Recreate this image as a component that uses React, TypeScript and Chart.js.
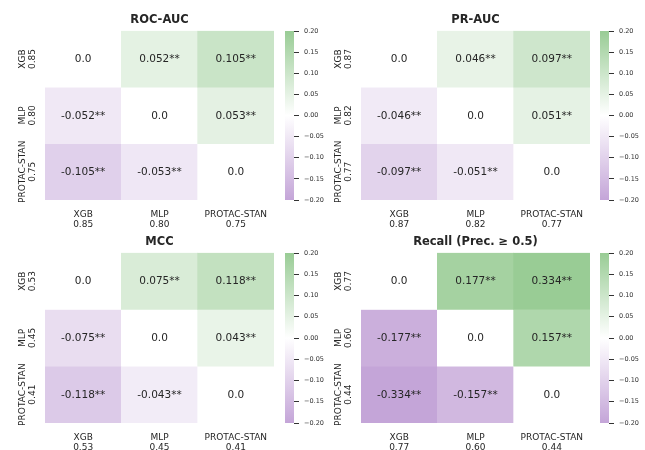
import React, { useEffect, useRef } from "react";
import { Chart, registerables } from "chart.js";

Chart.register(...registerables);

const FONT = "'DejaVu Sans', Verdana, sans-serif";
const TEXT = "#262626";

// ---- data ----
const MODELS = ["XGB", "MLP", "PROTAC-STAN"];

const ROC_SCORES = [0.85, 0.8, 0.75];
const ROC_DIFF = [
  [0.0, 0.052, 0.105],
  [-0.052, 0.0, 0.053],
  [-0.105, -0.053, 0.0],
];

const PR_SCORES = [0.87, 0.82, 0.77];
const PR_DIFF = [
  [0.0, 0.046, 0.097],
  [-0.046, 0.0, 0.051],
  [-0.097, -0.051, 0.0],
];

const MCC_SCORES = [0.53, 0.45, 0.41];
const MCC_DIFF = [
  [0.0, 0.075, 0.118],
  [-0.075, 0.0, 0.043],
  [-0.118, -0.043, 0.0],
];

const REC_SCORES = [0.77, 0.6, 0.44];
const REC_DIFF = [
  [0.0, 0.177, 0.334],
  [-0.177, 0.0, 0.157],
  [-0.334, -0.157, 0.0],
];

const SIG = [
  ["", "**", "**"],
  ["**", "", "**"],
  ["**", "**", ""],
];

const CB_MIN = -0.2;
const CB_MAX = 0.2;
const CB_STEP = 0.05;

// ---- colours ----
const GREEN = [153, 204, 149];
const PURPLE = [196, 165, 216];
const WHITE = [255, 255, 255];

function mix(a: number[], b: number[], t: number) {
  const c = a.map((v, i) => Math.round(v + (b[i] - v) * t));
  return `rgb(${c[0]},${c[1]},${c[2]})`;
}
function colorFor(v: number) {
  const t = Math.max(-1, Math.min(1, v / CB_MAX));
  return t >= 0 ? mix(WHITE, GREEN, t) : mix(WHITE, PURPLE, -t);
}

type HeatProps = {
  title: string;
  scores: number[];
  diffs: number[][];
  left: number;
  top: number;
  height: number;
  axisH: number;
};

function Heatmap({ title, scores, diffs, left, top, height, axisH }: HeatProps) {
  const ref = useRef<HTMLCanvasElement>(null);
  useEffect(() => {
    const canvas = ref.current!;
    const xLabels = MODELS.map((m, i) => [m, scores[i].toFixed(2)]);
    const valuePlugin = {
      id: "cellValues",
      afterDatasetsDraw(chart: any) {
        const ctx = chart.ctx;
        ctx.save();
        ctx.font = `10.5px ${FONT}`;
        ctx.fillStyle = TEXT;
        ctx.textAlign = "center";
        ctx.textBaseline = "middle";
        chart.data.datasets.forEach((ds: any, i: number) => {
          const meta = chart.getDatasetMeta(i);
          meta.data.forEach((bar: any, j: number) => {
            const p = bar.getProps(["x", "y", "base"], true);
            const v = diffs[i][j];
            const txt = i === j ? "0.0" : v.toFixed(3) + SIG[i][j];
            ctx.fillText(txt, p.x, (p.y + p.base) / 2 + 0.5);
          });
        });
        ctx.restore();
      },
    };
    const yLabelPlugin = {
      id: "yLabels",
      afterDraw(chart: any) {
        const ctx = chart.ctx;
        const ys = chart.scales.y;
        const area = chart.chartArea;
        ctx.save();
        ctx.font = `9px ${FONT}`;
        ctx.fillStyle = TEXT;
        ctx.textAlign = "center";
        ctx.textBaseline = "middle";
        MODELS.forEach((m, i) => {
          const cy = ys.getPixelForValue(i + 0.5);
          ctx.save();
          ctx.translate(area.left - 17, cy);
          ctx.rotate(-Math.PI / 2);
          ctx.fillText(m, 0, -5);
          ctx.fillText(scores[i].toFixed(2), 0, 5);
          ctx.restore();
        });
        ctx.restore();
      },
    };
    const chart = new Chart(canvas, {
      type: "bar",
      data: {
        labels: xLabels,
        datasets: MODELS.map((m, i) => ({
          label: m,
          data: MODELS.map(() => [i, i + 1]),
          backgroundColor: diffs[i].map((v) => colorFor(v)),
          borderWidth: 0,
          borderSkipped: false,
          barPercentage: 1,
          categoryPercentage: 1,
          grouped: false,
        })),
      } as any,
      options: {
        responsive: false,
        animation: false,
        devicePixelRatio: 1,
        layout: { padding: { left: 45, right: 4, top: 13, bottom: 0 } },
        plugins: {
          legend: { display: false },
          tooltip: { enabled: false },
          title: {
            display: true,
            text: title,
            color: TEXT,
            font: { family: FONT, size: 11.5, weight: "bold", lineHeight: 1.2 },
            padding: { top: 0, bottom: 4 },
          },
        },
        scales: {
          x: {
            grid: { display: false, drawTicks: false },
            border: { display: false },
            ticks: {
              color: TEXT,
              font: { family: FONT, size: 9, lineHeight: 1.1 },
              padding: 10,
              maxRotation: 0,
              minRotation: 0,
              autoSkip: false,
            },
            afterFit: (s: any) => {
              s.height = axisH;
            },
          },
          y: { display: false, min: 0, max: 3, reverse: true },
        },
      } as any,
      plugins: [valuePlugin, yLabelPlugin],
    });
    return () => chart.destroy();
  }, []);
  return (
    <canvas
      ref={ref}
      width={278}
      height={height}
      style={{ position: "absolute", left, top, width: 278, height }}
    />
  );
}

type CbProps = { left: number; top: number; height: number; barW: number };

function Colorbar({ left, top, height, barW }: CbProps) {
  const ref = useRef<HTMLCanvasElement>(null);
  const axisW = 40;
  useEffect(() => {
    const canvas = ref.current!;
    const chart = new Chart(canvas, {
      type: "bar",
      data: {
        labels: [""],
        datasets: [
          {
            data: [[CB_MIN, CB_MAX]],
            backgroundColor: (c: any) => {
              const area = c.chart.chartArea;
              if (!area) return "#fff";
              const g = c.chart.ctx.createLinearGradient(0, area.bottom, 0, area.top);
              g.addColorStop(0, mix(PURPLE, PURPLE, 0));
              g.addColorStop(0.5, "rgb(255,255,255)");
              g.addColorStop(1, mix(GREEN, GREEN, 0));
              return g;
            },
            borderWidth: 0,
            borderSkipped: false,
            barPercentage: 1,
            categoryPercentage: 1,
          },
        ],
      } as any,
      options: {
        responsive: false,
        animation: false,
        devicePixelRatio: 1,
        layout: { padding: { left: 0, right: 0, top: 6, bottom: 6 } },
        plugins: { legend: { display: false }, tooltip: { enabled: false } },
        scales: {
          x: { display: false },
          y: {
            position: "right",
            min: CB_MIN,
            max: CB_MAX,
            grid: {
              drawOnChartArea: false,
              tickLength: 5,
              tickColor: "#333",
              tickWidth: 1,
            },
            border: { display: false },
            ticks: {
              stepSize: CB_STEP,
              color: "#333",
              padding: 5,
              font: { family: FONT, size: 6.5 },
              callback: (v: any) => {
                const n = Number(v);
                const s = Math.abs(n).toFixed(2);
                return n < -1e-9 ? "\u2212" + s : s;
              },
            },
            afterFit: (s: any) => {
              s.width = axisW;
              s.paddingTop = 0;
              s.paddingBottom = 0;
            },
          },
        },
      } as any,
    });
    return () => chart.destroy();
  }, []);
  const w = barW + axisW;
  return (
    <canvas
      ref={ref}
      width={w}
      height={height}
      style={{ position: "absolute", left, top, width: w, height }}
    />
  );
}

export default function App() {
  return (
    <div
      style={{
        position: "absolute",
        left: 0,
        top: 0,
        width: 645,
        height: 450,
        background: "#fff",
        overflow: "hidden",
      }}
    >
      <Heatmap title="ROC-AUC" scores={ROC_SCORES} diffs={ROC_DIFF} left={0} top={0} height={232} axisH={32} />
      <Heatmap title="PR-AUC" scores={PR_SCORES} diffs={PR_DIFF} left={316} top={0} height={232} axisH={32} />
      <Heatmap title="MCC" scores={MCC_SCORES} diffs={MCC_DIFF} left={0} top={222} height={228} axisH={27} />
      <Heatmap title={"Recall (Prec. \u2265 0.5)"} scores={REC_SCORES} diffs={REC_DIFF} left={316} top={222} height={228} axisH={27} />
      <Colorbar left={285} top={25} height={181} barW={9} />
      <Colorbar left={600} top={25} height={181} barW={9} />
      <Colorbar left={285} top={247} height={182} barW={9} />
      <Colorbar left={600} top={247} height={182} barW={9} />
    </div>
  );
}
